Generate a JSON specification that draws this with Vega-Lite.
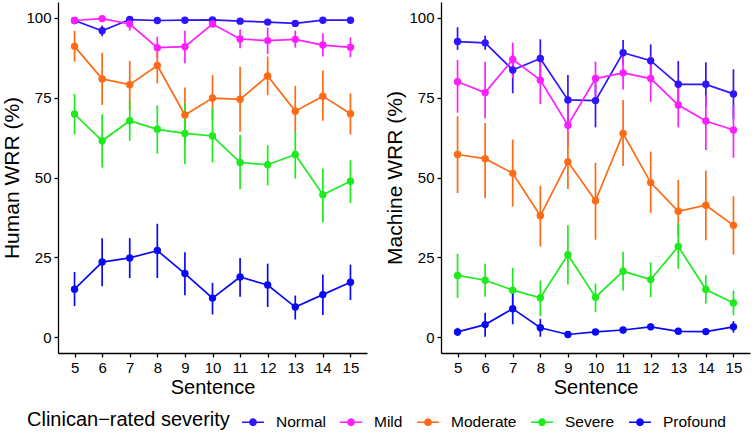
{
  "$schema": "https://vega.github.io/schema/vega-lite/v6.json",
  "background": "white",
  "padding": {"left": 1, "top": 2, "right": 1, "bottom": 2},
  "spacing": 17,
  "config": {
    "view": {"stroke": null},
    "font": "Liberation Sans",
    "axis": {"grid": false, "domainColor": "black", "domainWidth": 1.3, "tickColor": "black", "tickWidth": 1.3, "tickSize": 4, "labelColor": "black", "labelFontSize": 15, "labelPadding": 3, "titleColor": "black", "titleFontSize": 21, "titleFontWeight": "normal", "titlePadding": 3},
    "axisX": {"titleFontSize": 20, "titlePadding": 2}
  },
  "resolve": {"scale": {"color": "shared"}, "legend": {"color": "shared"}},
  "datasets": {
    "d": [
      {"p":"Human","s":5,"sev":"Normal","v":99.2,"lo":98.6,"hi":99.7},
      {"p":"Human","s":6,"sev":"Normal","v":96.0,"lo":94.3,"hi":97.6},
      {"p":"Human","s":7,"sev":"Normal","v":99.5,"lo":99.0,"hi":99.9},
      {"p":"Human","s":8,"sev":"Normal","v":99.2,"lo":98.7,"hi":99.6},
      {"p":"Human","s":9,"sev":"Normal","v":99.3,"lo":98.8,"hi":99.7},
      {"p":"Human","s":10,"sev":"Normal","v":99.4,"lo":98.9,"hi":99.8},
      {"p":"Human","s":11,"sev":"Normal","v":99.0,"lo":98.5,"hi":99.5},
      {"p":"Human","s":12,"sev":"Normal","v":98.7,"lo":98.1,"hi":99.3},
      {"p":"Human","s":13,"sev":"Normal","v":98.3,"lo":97.6,"hi":99.0},
      {"p":"Human","s":14,"sev":"Normal","v":99.3,"lo":98.8,"hi":99.7},
      {"p":"Human","s":15,"sev":"Normal","v":99.3,"lo":98.8,"hi":99.7},
      {"p":"Human","s":5,"sev":"Mild","v":99.2,"lo":98.5,"hi":99.8},
      {"p":"Human","s":6,"sev":"Mild","v":99.8,"lo":99.3,"hi":100},
      {"p":"Human","s":7,"sev":"Mild","v":98.1,"lo":96.0,"hi":99.5},
      {"p":"Human","s":8,"sev":"Mild","v":90.7,"lo":87.3,"hi":94.1},
      {"p":"Human","s":9,"sev":"Mild","v":91.0,"lo":85.8,"hi":96.0},
      {"p":"Human","s":10,"sev":"Mild","v":98.1,"lo":97.1,"hi":99.2},
      {"p":"Human","s":11,"sev":"Mild","v":93.4,"lo":90.5,"hi":96.4},
      {"p":"Human","s":12,"sev":"Mild","v":92.9,"lo":88.7,"hi":97.0},
      {"p":"Human","s":13,"sev":"Mild","v":93.3,"lo":90.7,"hi":96.0},
      {"p":"Human","s":14,"sev":"Mild","v":91.5,"lo":87.9,"hi":95.2},
      {"p":"Human","s":15,"sev":"Mild","v":90.8,"lo":87.7,"hi":93.9},
      {"p":"Human","s":5,"sev":"Moderate","v":91.1,"lo":86.3,"hi":96.0},
      {"p":"Human","s":6,"sev":"Moderate","v":80.9,"lo":72.7,"hi":89.1},
      {"p":"Human","s":7,"sev":"Moderate","v":79.1,"lo":71.1,"hi":86.5},
      {"p":"Human","s":8,"sev":"Moderate","v":85.1,"lo":79.5,"hi":91.0},
      {"p":"Human","s":9,"sev":"Moderate","v":69.6,"lo":60.7,"hi":78.2},
      {"p":"Human","s":10,"sev":"Moderate","v":74.9,"lo":68.0,"hi":82.1},
      {"p":"Human","s":11,"sev":"Moderate","v":74.5,"lo":64.3,"hi":84.7},
      {"p":"Human","s":12,"sev":"Moderate","v":81.8,"lo":75.8,"hi":87.9},
      {"p":"Human","s":13,"sev":"Moderate","v":70.8,"lo":64.3,"hi":78.7},
      {"p":"Human","s":14,"sev":"Moderate","v":75.5,"lo":67.8,"hi":83.5},
      {"p":"Human","s":15,"sev":"Moderate","v":70.0,"lo":63.5,"hi":76.4},
      {"p":"Human","s":5,"sev":"Severe","v":69.9,"lo":63.5,"hi":76.2},
      {"p":"Human","s":6,"sev":"Severe","v":61.5,"lo":53.1,"hi":69.8},
      {"p":"Human","s":7,"sev":"Severe","v":67.8,"lo":61.5,"hi":74.3},
      {"p":"Human","s":8,"sev":"Severe","v":65.1,"lo":57.5,"hi":72.6},
      {"p":"Human","s":9,"sev":"Severe","v":63.8,"lo":54.2,"hi":73.2},
      {"p":"Human","s":10,"sev":"Severe","v":63.0,"lo":54.7,"hi":71.7},
      {"p":"Human","s":11,"sev":"Severe","v":54.7,"lo":46.3,"hi":63.3},
      {"p":"Human","s":12,"sev":"Severe","v":54.0,"lo":47.5,"hi":60.1},
      {"p":"Human","s":13,"sev":"Severe","v":57.2,"lo":49.7,"hi":64.6},
      {"p":"Human","s":14,"sev":"Severe","v":44.6,"lo":35.9,"hi":52.8},
      {"p":"Human","s":15,"sev":"Severe","v":48.8,"lo":42.0,"hi":55.4},
      {"p":"Human","s":5,"sev":"Profound","v":15.0,"lo":9.7,"hi":20.4},
      {"p":"Human","s":6,"sev":"Profound","v":23.5,"lo":15.9,"hi":31.0},
      {"p":"Human","s":7,"sev":"Profound","v":24.8,"lo":18.5,"hi":31.0},
      {"p":"Human","s":8,"sev":"Profound","v":27.1,"lo":18.5,"hi":35.5},
      {"p":"Human","s":9,"sev":"Profound","v":19.9,"lo":13.1,"hi":26.6},
      {"p":"Human","s":10,"sev":"Profound","v":12.2,"lo":7.1,"hi":17.0},
      {"p":"Human","s":11,"sev":"Profound","v":18.8,"lo":12.6,"hi":24.8},
      {"p":"Human","s":12,"sev":"Profound","v":16.3,"lo":9.4,"hi":23.0},
      {"p":"Human","s":13,"sev":"Profound","v":9.4,"lo":5.5,"hi":13.0},
      {"p":"Human","s":14,"sev":"Profound","v":13.3,"lo":6.9,"hi":19.6},
      {"p":"Human","s":15,"sev":"Profound","v":17.2,"lo":11.6,"hi":22.7},
      {"p":"Machine","s":5,"sev":"Normal","v":92.6,"lo":90.0,"hi":97.1},
      {"p":"Machine","s":6,"sev":"Normal","v":92.2,"lo":90.0,"hi":94.4},
      {"p":"Machine","s":7,"sev":"Normal","v":83.7,"lo":76.4,"hi":88.9},
      {"p":"Machine","s":8,"sev":"Normal","v":87.3,"lo":80.5,"hi":93.3},
      {"p":"Machine","s":9,"sev":"Normal","v":74.3,"lo":65.7,"hi":82.1},
      {"p":"Machine","s":10,"sev":"Normal","v":74.1,"lo":65.7,"hi":80.5},
      {"p":"Machine","s":11,"sev":"Normal","v":89.1,"lo":85.3,"hi":93.1},
      {"p":"Machine","s":12,"sev":"Normal","v":86.6,"lo":81.6,"hi":91.7},
      {"p":"Machine","s":13,"sev":"Normal","v":79.2,"lo":72.7,"hi":86.5},
      {"p":"Machine","s":14,"sev":"Normal","v":79.2,"lo":72.2,"hi":86.1},
      {"p":"Machine","s":15,"sev":"Normal","v":76.2,"lo":68.4,"hi":83.9},
      {"p":"Machine","s":5,"sev":"Mild","v":80.0,"lo":70.3,"hi":86.8},
      {"p":"Machine","s":6,"sev":"Mild","v":76.6,"lo":68.5,"hi":86.3},
      {"p":"Machine","s":7,"sev":"Mild","v":87.0,"lo":81.1,"hi":92.3},
      {"p":"Machine","s":8,"sev":"Mild","v":80.5,"lo":73.0,"hi":87.3},
      {"p":"Machine","s":9,"sev":"Mild","v":66.4,"lo":59.6,"hi":74.3},
      {"p":"Machine","s":10,"sev":"Mild","v":81.0,"lo":74.3,"hi":86.3},
      {"p":"Machine","s":11,"sev":"Mild","v":82.8,"lo":77.6,"hi":88.9},
      {"p":"Machine","s":12,"sev":"Mild","v":81.0,"lo":73.7,"hi":87.9},
      {"p":"Machine","s":13,"sev":"Mild","v":72.7,"lo":65.7,"hi":78.9},
      {"p":"Machine","s":14,"sev":"Mild","v":67.7,"lo":58.6,"hi":75.8},
      {"p":"Machine","s":15,"sev":"Mild","v":64.9,"lo":56.2,"hi":72.7},
      {"p":"Machine","s":5,"sev":"Moderate","v":57.2,"lo":45.1,"hi":69.2},
      {"p":"Machine","s":6,"sev":"Moderate","v":55.9,"lo":43.5,"hi":67.1},
      {"p":"Machine","s":7,"sev":"Moderate","v":51.3,"lo":40.9,"hi":61.9},
      {"p":"Machine","s":8,"sev":"Moderate","v":38.0,"lo":28.4,"hi":47.4},
      {"p":"Machine","s":9,"sev":"Moderate","v":54.9,"lo":46.4,"hi":64.3},
      {"p":"Machine","s":10,"sev":"Moderate","v":42.7,"lo":30.5,"hi":54.6},
      {"p":"Machine","s":11,"sev":"Moderate","v":63.8,"lo":53.6,"hi":74.3},
      {"p":"Machine","s":12,"sev":"Moderate","v":48.4,"lo":38.9,"hi":58.1},
      {"p":"Machine","s":13,"sev":"Moderate","v":39.4,"lo":31.6,"hi":49.2},
      {"p":"Machine","s":14,"sev":"Moderate","v":41.3,"lo":30.3,"hi":52.1},
      {"p":"Machine","s":15,"sev":"Moderate","v":35.0,"lo":25.8,"hi":44.1},
      {"p":"Machine","s":5,"sev":"Severe","v":19.3,"lo":12.3,"hi":26.1},
      {"p":"Machine","s":6,"sev":"Severe","v":17.8,"lo":12.6,"hi":23.0},
      {"p":"Machine","s":7,"sev":"Severe","v":14.7,"lo":8.4,"hi":21.7},
      {"p":"Machine","s":8,"sev":"Severe","v":12.3,"lo":6.6,"hi":17.7},
      {"p":"Machine","s":9,"sev":"Severe","v":25.8,"lo":16.5,"hi":35.0},
      {"p":"Machine","s":10,"sev":"Severe","v":12.5,"lo":7.9,"hi":16.8},
      {"p":"Machine","s":11,"sev":"Severe","v":20.6,"lo":14.6,"hi":26.7},
      {"p":"Machine","s":12,"sev":"Severe","v":18.0,"lo":12.5,"hi":23.4},
      {"p":"Machine","s":13,"sev":"Severe","v":28.4,"lo":21.4,"hi":35.7},
      {"p":"Machine","s":14,"sev":"Severe","v":14.9,"lo":10.5,"hi":19.4},
      {"p":"Machine","s":15,"sev":"Severe","v":10.7,"lo":6.8,"hi":14.6},
      {"p":"Machine","s":5,"sev":"Profound","v":1.6,"lo":0.3,"hi":2.9},
      {"p":"Machine","s":6,"sev":"Profound","v":3.9,"lo":0.1,"hi":7.6},
      {"p":"Machine","s":7,"sev":"Profound","v":8.9,"lo":4.0,"hi":13.9},
      {"p":"Machine","s":8,"sev":"Profound","v":2.9,"lo":0.1,"hi":5.7},
      {"p":"Machine","s":9,"sev":"Profound","v":0.8,"lo":0.3,"hi":1.4},
      {"p":"Machine","s":10,"sev":"Profound","v":1.6,"lo":0.8,"hi":2.2},
      {"p":"Machine","s":11,"sev":"Profound","v":2.2,"lo":1.1,"hi":3.1},
      {"p":"Machine","s":12,"sev":"Profound","v":3.2,"lo":2.1,"hi":4.3},
      {"p":"Machine","s":13,"sev":"Profound","v":1.8,"lo":0.9,"hi":2.6},
      {"p":"Machine","s":14,"sev":"Profound","v":1.7,"lo":0.7,"hi":2.5},
      {"p":"Machine","s":15,"sev":"Profound","v":3.2,"lo":1.4,"hi":5.0}
    ]
  },
  "hconcat": [
    {
      "width": 309, "height": 351,
      "data": {"name": "d"},
      "transform": [{"filter": "datum.p === 'Human'"}],
      "encoding": {
        "x": {"field": "s", "type": "quantitative", "title": "Sentence", "scale": {"domain": [4.4, 15.6], "nice": false, "zero": false}, "axis": {"values": [5,6,7,8,9,10,11,12,13,14,15], "labelFlush": false}}
      },
      "layer": [
        {"mark": {"type": "rule", "strokeWidth": 1.7},
         "encoding": {
           "y": {"field": "lo", "type": "quantitative", "title": "Human WRR (%)", "scale": {"domain": [-5, 105], "nice": false, "zero": false}, "axis": {"values": [0,25,50,75,100]}},
           "y2": {"field": "hi"},
           "color": {"field": "sev", "type": "nominal", "scale": {"domain": ["Normal","Mild","Moderate","Severe","Profound"], "range": ["#2E14FF","#FF1EFF","#FF6A14","#1EEB1E","#0A0AF5"]},
             "legend": {"title": "Clinican\u2212rated severity", "orient": "none", "legendX": -31, "legendY": 408, "direction": "horizontal", "columns": 5, "gridAlign": "each", "titleOrient": "left", "titleAlign": "left", "titleFontSize": 20, "titleFontWeight": "normal", "titleColor": "black", "titlePadding": 11, "titleLimit": 400, "labelFontSize": 15.5, "labelColor": "black", "labelOffset": 11, "labelLimit": 200, "columnPadding": 10, "padding": 0, "symbolSize": 484, "symbolStrokeWidth": 1.7, "symbolType": "M-1,0L1,0M-0.28,0A0.28,0.28,0,1,1,0.28,0A0.28,0.28,0,1,1,-0.28,0M-0.19,0A0.19,0.19,0,1,1,0.19,0A0.19,0.19,0,1,1,-0.19,0M-0.1,0A0.1,0.1,0,1,1,0.1,0A0.1,0.1,0,1,1,-0.1,0"}}
         }},
        {"mark": {"type": "line", "strokeWidth": 1.7},
         "encoding": {
           "y": {"field": "v", "type": "quantitative", "title": "Human WRR (%)"},
           "color": {"field": "sev", "type": "nominal", "legend": null}
         }},
        {"mark": {"type": "point", "filled": true, "size": 55, "opacity": 1},
         "encoding": {
           "y": {"field": "v", "type": "quantitative", "title": "Human WRR (%)"},
           "color": {"field": "sev", "type": "nominal", "legend": null}
         }}
      ]
    },
    {
      "width": 309, "height": 351,
      "data": {"name": "d"},
      "transform": [{"filter": "datum.p === 'Machine'"}],
      "encoding": {
        "x": {"field": "s", "type": "quantitative", "title": "Sentence", "scale": {"domain": [4.4, 15.6], "nice": false, "zero": false}, "axis": {"values": [5,6,7,8,9,10,11,12,13,14,15], "labelFlush": false}}
      },
      "layer": [
        {"mark": {"type": "rule", "strokeWidth": 1.7},
         "encoding": {
           "y": {"field": "lo", "type": "quantitative", "title": "Machine WRR (%)", "scale": {"domain": [-5, 105], "nice": false, "zero": false}, "axis": {"values": [0,25,50,75,100]}},
           "y2": {"field": "hi"},
           "color": {"field": "sev", "type": "nominal", "legend": null}
         }},
        {"mark": {"type": "line", "strokeWidth": 1.7},
         "encoding": {
           "y": {"field": "v", "type": "quantitative", "title": "Machine WRR (%)"},
           "color": {"field": "sev", "type": "nominal", "legend": null}
         }},
        {"mark": {"type": "point", "filled": true, "size": 55, "opacity": 1},
         "encoding": {
           "y": {"field": "v", "type": "quantitative", "title": "Machine WRR (%)"},
           "color": {"field": "sev", "type": "nominal", "legend": null}
         }}
      ]
    }
  ]
}
